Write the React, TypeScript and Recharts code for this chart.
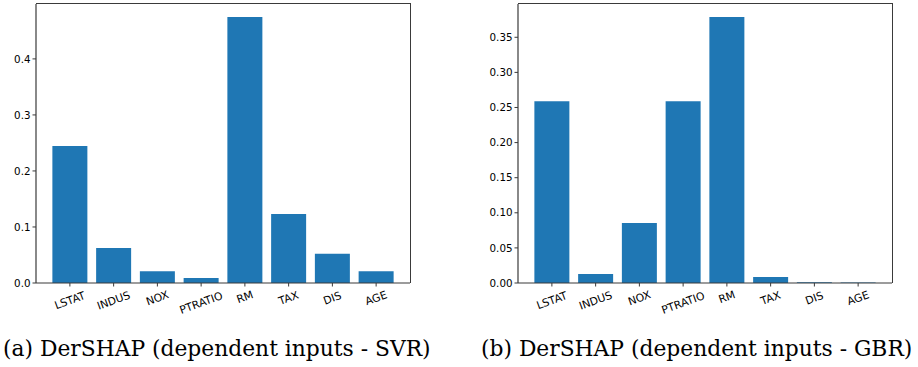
import React from "react";
import { BarChart, Bar, XAxis, YAxis } from "recharts";

const features = ["LSTAT", "INDUS", "NOX", "PTRATIO", "RM", "TAX", "DIS", "AGE"];
const svrValues = [0.2445, 0.0625, 0.021, 0.009, 0.475, 0.123, 0.052, 0.021];
const gbrValues = [0.259, 0.0128, 0.0855, 0.259, 0.379, 0.0085, 0.0012, 0.0008];
const svrTicks = [0, 0.1, 0.2, 0.3, 0.4];
const gbrTicks = [0, 0.05, 0.1, 0.15, 0.2, 0.25, 0.3, 0.35];
const captions = [
  "(a) DerSHAP (dependent inputs - SVR)",
  "(b) DerSHAP (dependent inputs - GBR)",
];

const BLUE = "#1f77b4";
const SPINE = "#3a3a3a";
const tickFont = { fontSize: 10.3, fontFamily: "DejaVu Sans", fill: "#000" };

function RotatedTick(props: any) {
  const { x, y, payload } = props;
  const label = String(payload.value);
  const w = label.length * 7;
  const h = w * 0.342 + 12 * 0.94;
  return (
    <g transform={`translate(${x},${y})`}>
      <text
        x={0}
        y={0}
        transform={`translate(0,${h / 2 + 1.5}) rotate(-20)`}
        textAnchor="middle"
        dominantBaseline="central"
        fontSize={10.8}
        fontFamily="DejaVu Sans"
        fill="#000"
      >
        {label}
      </text>
    </g>
  );
}

function Panel(props: {
  values: number[];
  ticks: number[];
  max: number;
  digits: number;
  left: number;
  yWidth: number;
}) {
  const data = features.map((f, i) => ({ name: f, value: props.values[i] }));
  return (
    <div style={{ position: "absolute", left: props.left, top: 0, width: 460, height: 320 }}>
      <BarChart
        width={460}
        height={320}
        data={data}
        margin={{ top: 4, right: 460 - 374 - props.yWidth, left: 0, bottom: 7 }}
        barCategoryGap="10%"
      >
        <XAxis
          dataKey="name"
          interval={0}
          tick={<RotatedTick />}
          tickSize={3.5}
          tickMargin={1}
          height={30}
          padding={{ left: 12, right: 12 }}
          axisLine={{ stroke: SPINE, strokeWidth: 1.2 }}
          tickLine={{ stroke: SPINE }}
        />
        <YAxis
          type="number"
          domain={[0, props.max]}
          ticks={props.ticks}
          allowDataOverflow
          width={props.yWidth}
          tickSize={3.5}
          tickMargin={2}
          tick={tickFont}
          tickFormatter={(v: number) => v.toFixed(props.digits)}
          axisLine={{ stroke: SPINE, strokeWidth: 1.2 }}
          tickLine={{ stroke: SPINE }}
        />
        <Bar dataKey="value" fill={BLUE} isAnimationActive={false} />
      </BarChart>
      {/* top and right spines of the matplotlib frame */}
      <div
        style={{
          position: "absolute",
          left: props.yWidth,
          top: 3.4,
          width: 374.6,
          height: 280,
          borderTop: `1.2px solid ${SPINE}`,
          borderRight: `1.2px solid ${SPINE}`,
          boxSizing: "border-box",
          pointerEvents: "none",
        }}
      />
    </div>
  );
}

export default function App() {
  return (
    <div
      style={{
        position: "absolute",
        left: 0,
        top: 0,
        width: 918,
        height: 367,
        background: "#fff",
        overflow: "hidden",
      }}
    >
      <Panel values={svrValues} ticks={svrTicks} max={0.498} digits={1} left={0} yWidth={36} />
      <Panel values={gbrValues} ticks={gbrTicks} max={0.3974} digits={2} left={460} yWidth={58} />
      {captions.map((c, i) => (
        <div
          key={c}
          style={{
            position: "absolute",
            left: i === 0 ? 3 : 481,
            top: 336,
            fontFamily: "DejaVu Serif",
            fontSize: 21.8,
            whiteSpace: "nowrap",
            color: "#000",
          }}
        >
          {c}
        </div>
      ))}
    </div>
  );
}
